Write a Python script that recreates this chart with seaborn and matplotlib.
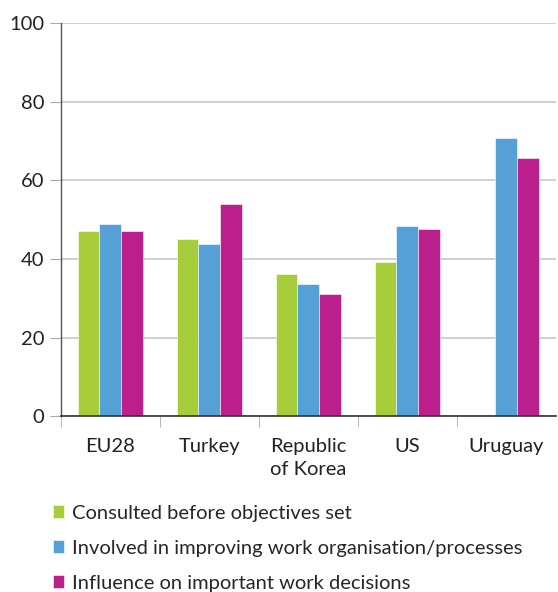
import numpy as np
import pandas as pd
import matplotlib.pyplot as plt
import seaborn as sns

countries = ["EU28", "Turkey", "Republic\nof Korea", "US", "Uruguay"]
series = [
    "Consulted before objectives set",
    "Involved in improving work organisation/processes",
    "Influence on important work decisions",
]
consulted = [47.0, 45.0, 36.1, 39.3, np.nan]
involved = [48.9, 43.9, 33.6, 48.3, 70.7]
influence = [47.0, 53.9, 31.2, 47.5, 65.6]
colors = ["#a7cd3a", "#56a0d8", "#bb1f8b"]

rows = []
for name, vals in zip(series, [consulted, involved, influence]):
    for c, v in zip(countries, vals):
        rows.append({"country": c, "series": name, "value": v})
df = pd.DataFrame(rows)

sns.set_style("white")
plt.rcParams["font.family"] = ["Lato", "DejaVu Sans"]

fig = plt.figure(figsize=(5.58, 5.92), dpi=100)
ax = fig.add_axes([0.109, 0.297, 0.887, 0.664])

sns.barplot(data=df, x="country", y="value", hue="series", order=countries,
            hue_order=series, palette=colors, width=0.66, saturation=1,
            edgecolor="white", linewidth=0.4, ax=ax, legend=True)

ax.set_ylim(0, 100)
ax.set_xlim(-0.5, 4.5)
ax.set_yticks([0, 20, 40, 60, 80, 100])
ax.yaxis.grid(True, color="#c8c8c8", linewidth=1.2)
ax.set_axisbelow(True)
ax.set_xlabel("")
ax.set_ylabel("")
for s in ["top", "right"]:
    ax.spines[s].set_visible(False)
ax.spines["left"].set_color("#555555")
ax.spines["bottom"].set_color("#333333")
ax.spines["left"].set_linewidth(1.0)
ax.spines["bottom"].set_linewidth(1.2)

ax.tick_params(axis="y", length=8, color="#aaaaaa", labelsize=14.5, pad=4,
               labelcolor="#222222", left=True)
ax.tick_params(axis="x", which="major", length=0, labelsize=14.5, pad=16,
               labelcolor="#222222")
for lbl in ax.get_xticklabels():
    lbl.set_linespacing(1.4)
ax.set_xticks(np.arange(-0.5, 4.5, 1.0), minor=True)
ax.tick_params(axis="x", which="minor", length=8, color="#aaaaaa", bottom=True)

handles, labels = ax.get_legend_handles_labels()
ax.legend(handles, labels, loc="upper left", bbox_to_anchor=(-0.016, -0.225),
          frameon=False, fontsize=14.5, handlelength=0.55, handleheight=0.6,
          handletextpad=0.4, labelspacing=0.9, borderpad=0, borderaxespad=0)

fig.savefig("out.png", dpi=100)
